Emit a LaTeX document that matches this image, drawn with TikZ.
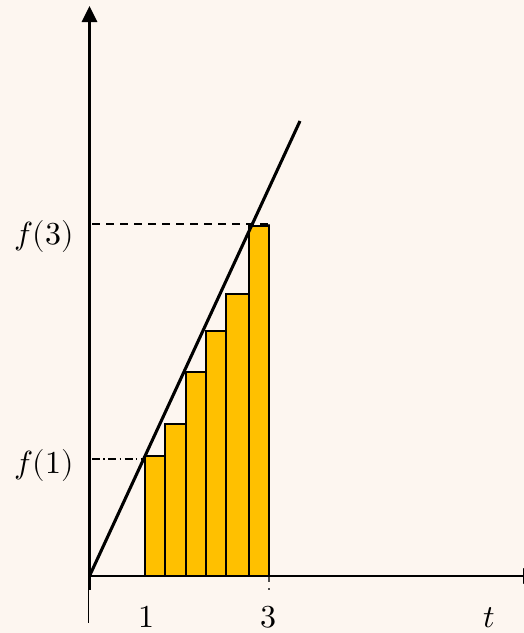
\documentclass[tikz,border=0pt]{standalone}
\usepackage{unicode-math}
\setmathfont{Latin Modern Math}
\usetikzlibrary{arrows.meta}
\definecolor{bgcream}{RGB}{253,246,240}
\definecolor{bargold}{RGB}{255,192,0}
\begin{document}
\begin{tikzpicture}[x=0.75pt,y=-0.75pt,
  axis/.style={line width=1.6pt},
  barbox/.style={draw=black,line width=1.3pt,fill=bargold},
  lbl/.style={font=\fontsize{24}{28}\selectfont,inner sep=0pt,anchor=base}]
\useasboundingbox[fill=bgcream] (0,0) rectangle (524,633);
% guide lines
\draw[line width=0.9pt,dash pattern=on 6pt off 4.5pt] (92,224) -- (269,224);
\draw[line width=0.9pt,dash pattern=on 6pt off 4.5pt,black!70] (269,224) -- (269,590);
\draw[line width=0.9pt,dash pattern=on 6pt off 2.5pt on 1.2pt off 2.5pt] (92,459) -- (146,459);
% bars
\draw[barbox] (145,576) rectangle (165,456);
\draw[barbox] (165,576) rectangle (186,424);
\draw[barbox] (186,576) rectangle (206,372);
\draw[barbox] (206,576) rectangle (226,331);
\draw[barbox] (226,576) rectangle (249,294);
\draw[barbox] (249,576) rectangle (269,226);
% axes
\coordinate (O) at (89.5,576);
\coordinate (ybot) at (89.5,590);
\coordinate (ytop) at (89.5,6);
\coordinate (xend) at (539,576);
\draw[axis,-{Triangle[width=11.5pt,length=12pt]}] (ybot) -- (ytop);
\draw[axis,-{Triangle[width=11.5pt,length=12pt]}] (O) -- (xend);
\draw[line width=0.5pt] (88.5,590) -- (88.5,623);
% line
\coordinate (L) at (300,121);
\draw[line width=2.3pt] (O) -- (L);
% labels
\node[lbl] (f3) at (44,244) {$f(3)$};
\node[lbl] (f1) at (44,473) {$f(1)$};
\node[lbl] (one) at (146,627) {$1$};
\node[lbl] (three) at (268,627) {$3$};
\node[lbl] (t) at (489,627) {$t$};
\end{tikzpicture}
\end{document}
